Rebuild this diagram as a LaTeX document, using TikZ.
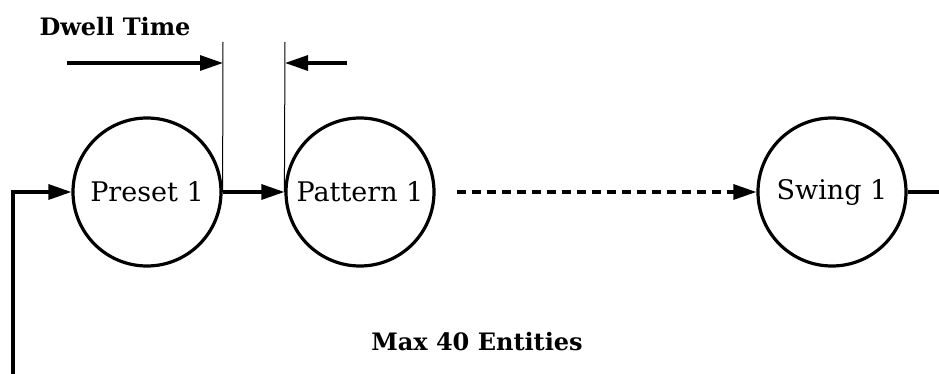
\documentclass[tikz,border=0pt]{standalone}
\usepackage{fontspec}
\setmainfont{DejaVu Serif}
\usetikzlibrary{arrows.meta}

\begin{document}
\begin{tikzpicture}[x=0.5pt,y=-0.5pt]
                    \tikzset{state/.style={draw, circle, line width=1.6pt, minimum size=74pt, inner sep=0pt, font=\fontsize{13.5}{16}\selectfont}}
                    \tikzset{flow/.style={-{Triangle[length=11.5pt,width=7.5pt]}, line width=1.6pt}}
                    \tikzset{label/.style={font=\fontsize{12}{14}\selectfont\bfseries}}

                    \useasboundingbox (0,0) rectangle (939,374);

                    \node[state] (preset) at (147,192) {Preset 1};
                    \node[state] (pattern) at (360,192) {Pattern 1};
                    \node[state] (swing) at (832,192) {Swing 1};

                    \coordinate (loop) at (13,374);
                    \coordinate (out) at (939,192);
                    \coordinate (dwellA) at (223,42);
                    \coordinate (dwellB) at (285,42);
                    \coordinate (fromA) at (67,63);
                    \coordinate (fromB) at (347,63);

                    \draw[flow] (loop) |- (preset);
                    \draw[flow] (preset) -- (pattern);
                    \draw[flow, dash pattern=on 4.5pt off 3pt, shorten <=10.5pt] (pattern) -- (swing);
                    \draw[line width=1.6pt] (swing) -- (out);

                    \draw[line width=0.5pt] (preset.east) -- (dwellA);
                    \draw[line width=0.5pt] (pattern.west) -- (dwellB);
                    \draw[flow] (fromA) -- (fromA-|dwellA);
                    \draw[flow] (fromB) -- (fromB-|dwellB);

                    \node[label] (dwell) at (115,27) {Dwell Time};
                    \node[label] (max) at (477,342) {Max 40 Entities};
                \end{tikzpicture}
\end{document}
